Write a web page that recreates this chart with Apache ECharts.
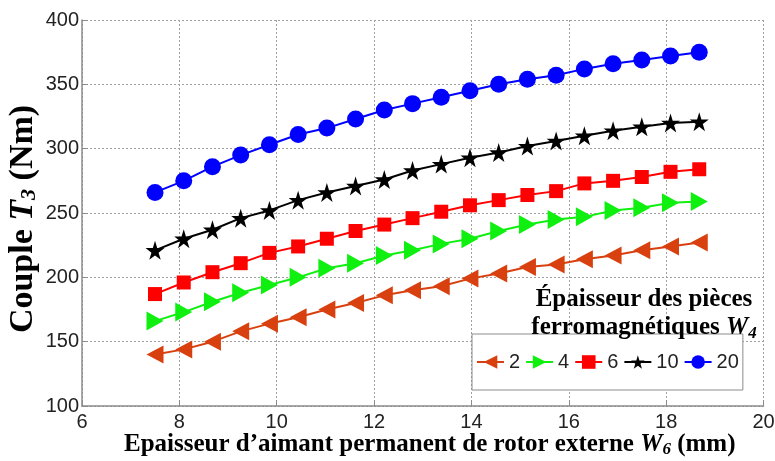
<!DOCTYPE html>
<html>
<head>
<meta charset="utf-8">
<script src="https://cdn.jsdelivr.net/npm/echarts@6/dist/echarts.min.js"></script>
<style>html,body{margin:0;padding:0;background:#fff}#c{width:775px;height:461px}</style>
</head>
<body>
<div id="c"></div>
<script>
// X values: permanent-magnet thickness W6 (mm)
const xValues = [7.5, 8.09, 8.68, 9.26, 9.85, 10.44, 11.03, 11.62, 12.21, 12.79,
                 13.38, 13.97, 14.56, 15.15, 15.74, 16.32, 16.91, 17.5, 18.09, 18.68];
// Torque T3 (Nm) for each ferromagnetic piece thickness W4
const seriesNames = ['2', '4', '6', '10', '20'];
const w4_2  = [140, 144, 150, 158, 164, 169, 175, 180, 186, 190, 193, 199, 203, 208, 210, 214, 217, 221, 224, 227];
const w4_4  = [166, 173, 181, 188, 194, 200, 207, 211, 217, 221, 226, 230, 236, 241, 245, 247, 252, 254, 258, 259];
const w4_6  = [187, 196, 204, 211, 219, 224, 230, 236, 241, 246, 251, 256, 260, 264, 267, 273, 275, 278, 282, 284];
const w4_10 = [221, 230, 237, 246, 252, 260, 266, 271, 276, 283, 288, 293, 297, 302, 306, 310, 314, 317, 320, 321];
const w4_20 = [266, 275, 286, 295, 303, 311, 316, 323, 330, 335, 340, 345, 350, 354, 357, 362, 366, 369, 372, 375];
const xTicks = [6, 8, 10, 12, 14, 16, 18, 20];
const yTicks = [100, 150, 200, 250, 300, 350, 400];

const values = [w4_2, w4_4, w4_6, w4_10, w4_20];
const colors = ['#D9400F', '#10F010', '#FF0000', '#000000', '#0000FF'];
const symbols = [
  'path://M0,50 L100,0 L100,100 Z',
  'path://M100,50 L0,0 L0,100 Z',
  'rect',
  'path://M50,0 L61,35 L98,35 L68,57 L79,91 L50,70 L21,91 L32,57 L2,35 L39,35 Z',
  'circle'
];
const symbolSizes = [[17, 18], [17, 19], 14, 19, 17];

const serif = '"Liberation Serif", "Times New Roman", serif';
const sans = '"Liberation Sans", Arial, sans-serif';

const chart = echarts.init(document.getElementById('c'), null, {renderer: 'canvas'});
chart.setOption({
  animation: false,
  backgroundColor: '#fff',
  grid: {left: 82, right: 11.5, top: 20, bottom: 55, containLabel: false, outerBoundsMode: 'none'},
  title: {
    left: 639, top: 281, textAlign: 'center',
    text: '{b|Épaisseur des pièces}\n{b|ferromagnétiques }{i|W}{s|4}',
    textStyle: {
      rich: {
        b: {fontFamily: serif, fontWeight: 'bold', fontSize: 25, color: '#000', lineHeight: 28},
        i: {fontFamily: serif, fontWeight: 'bold', fontStyle: 'italic', fontSize: 25, color: '#000', lineHeight: 28},
        s: {fontFamily: serif, fontWeight: 'bold', fontStyle: 'italic', fontSize: 17, color: '#000', lineHeight: 28, verticalAlign: 'bottom', padding: [10, 0, 0, 0]}
      }
    }
  },
  legend: {
    left: 472, top: 334,
    orient: 'horizontal',
    data: seriesNames,
    itemWidth: 27, itemHeight: 17, itemGap: 5,
    padding: [18, 4],
    borderColor: '#8c8c8c', borderWidth: 1,
    backgroundColor: '#fff',
    textStyle: {fontFamily: sans, fontSize: 20, color: '#222'}
  },
  xAxis: {
    type: 'value', min: 6, max: 20, interval: 2,
    name: 'Epaisseur d\u2019aimant permanent de rotor externe {i|W}{s|6} (mm)',
    nameLocation: 'middle', nameGap: 25, nameMoveOverlap: false,
    nameTextStyle: {
      fontFamily: serif, fontWeight: 'bold', fontSize: 25, color: '#000', padding: [0, 0, 0, 14],
      rich: {
        i: {fontFamily: serif, fontWeight: 'bold', fontStyle: 'italic', fontSize: 25, color: '#000'},
        s: {fontFamily: serif, fontWeight: 'bold', fontStyle: 'italic', fontSize: 17, color: '#000', verticalAlign: 'bottom', padding: [10, 0, 0, 0]}
      }
    },
    axisLine: {show: true, lineStyle: {color: '#8c8c8c', width: 1.5}},
    axisTick: {show: true, inside: true, length: 6, lineStyle: {color: '#8c8c8c'}},
    axisLabel: {fontFamily: sans, fontSize: 20, color: '#222', margin: 6,
                formatter: v => xTicks.includes(v) ? String(v) : ''},
    splitLine: {show: true, lineStyle: {type: [2, 2], color: '#a0a0a0', width: 1}}
  },
  yAxis: {
    type: 'value', min: 100, max: 400, interval: 50,
    name: 'Couple {i|T}{s|3} (Nm)',
    nameLocation: 'middle', nameGap: 42, nameRotate: 90, nameMoveOverlap: false,
    nameTextStyle: {
      fontFamily: serif, fontWeight: 'bold', fontSize: 34, color: '#000', padding: [0, 12, 0, 0],
      rich: {
        i: {fontFamily: serif, fontWeight: 'bold', fontStyle: 'italic', fontSize: 34, color: '#000'},
        s: {fontFamily: serif, fontWeight: 'bold', fontStyle: 'italic', fontSize: 22, color: '#000', verticalAlign: 'bottom', padding: [12, 0, 0, 0]}
      }
    },
    axisLine: {show: true, lineStyle: {color: '#8c8c8c', width: 1.5}},
    axisTick: {show: true, inside: true, length: 6, lineStyle: {color: '#8c8c8c'}},
    axisLabel: {fontFamily: sans, fontSize: 20, color: '#222', margin: 3,
                formatter: v => yTicks.includes(v) ? String(v) : ''},
    splitLine: {show: true, lineStyle: {type: [2, 2], color: '#a0a0a0', width: 1}}
  },
  series: seriesNames.map((name, k) => ({
    name: name,
    type: 'line',
    data: xValues.map((x, i) => [x, values[k][i]]),
    symbol: symbols[k],
    symbolSize: symbolSizes[k],
    showAllSymbol: true,
    lineStyle: {color: colors[k], width: 2},
    itemStyle: {color: colors[k], borderWidth: 0},
    z: 2 + k
  }))
});
</script>
</body>
</html>
